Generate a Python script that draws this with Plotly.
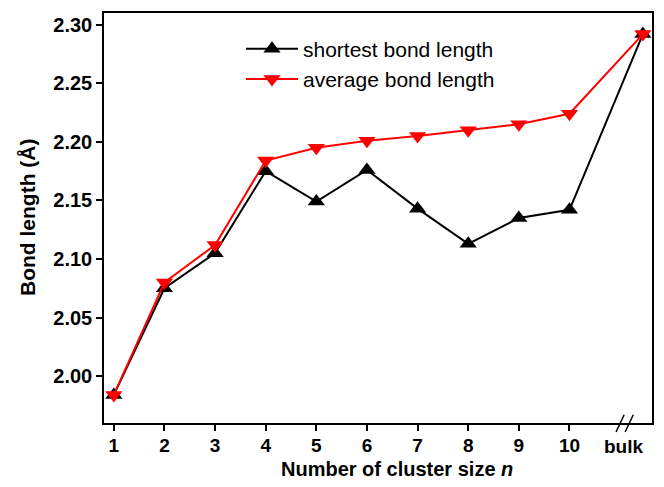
import plotly.graph_objects as go

# cluster sizes 1..10, plus the bulk value placed after an axis break
sizes = [1, 2, 3, 4, 5, 6, 7, 8, 9, 10]
bulk_x = 11.45
shortest = [1.984, 2.075, 2.105, 2.175, 2.149, 2.176, 2.143, 2.113, 2.135, 2.142]
average = [1.984, 2.080, 2.112, 2.184, 2.195, 2.201, 2.205, 2.210, 2.215, 2.224]
shortest_bulk = 2.292
average_bulk = 2.292
y_ticks = [2.00, 2.05, 2.10, 2.15, 2.20, 2.25, 2.30]

x_all = sizes + [bulk_x]

fig = go.Figure()
fig.add_trace(go.Scatter(
  x=x_all, y=shortest + [shortest_bulk], name='shortest bond length',
  mode='lines+markers', line=dict(color='black', width=2),
  marker=dict(symbol='triangle-up', size=15, color='black')))
fig.add_trace(go.Scatter(
  x=x_all, y=average + [average_bulk], name='average bond length',
  mode='lines+markers', line=dict(color='#ff0000', width=2),
  marker=dict(symbol='triangle-down', size=15, color='#ff0000')))

# axis break marks "//" on the bottom axis
for cx in [11.0, 11.18]:
  fig.add_shape(type='line', xref='x', yref='paper',
                x0=cx - 0.08, x1=cx + 0.08, y0=-0.022, y1=0.02,
                line=dict(color='black', width=1.5))
fig.add_annotation(x=11.07, y=0, xref='x', yref='paper', yanchor='middle', yshift=-23,
                   text='<b>bulk</b>', showarrow=False, font=dict(size=19, color='black'))

# axis titles as annotations so they sit where the original has them
fig.add_annotation(x=0.534, y=0, xref='paper', yref='paper', yanchor='middle', yshift=-46,
                   text='<b>Number of cluster size <i>n</i></b>', showarrow=False,
                   font=dict(size=20, color='black'))
fig.add_annotation(x=0, y=0.5, xref='paper', yref='paper', xanchor='center', xshift=-77,
                   textangle=-90, text='<b>Bond length (Å)</b>', showarrow=False,
                   font=dict(size=21, color='black'))

fig.update_layout(
  width=648, height=471,
  margin=dict(l=96, r=2, t=5, b=56),
  paper_bgcolor='white', plot_bgcolor='white',
  font=dict(family='Liberation Sans, Arial, sans-serif', color='black', size=20),
  showlegend=True,
  legend=dict(x=0.25, y=0.962, xanchor='left', yanchor='top',
              bgcolor='rgba(0,0,0,0)', font=dict(size=21), tracegroupgap=0,
              itemwidth=52),
  xaxis=dict(range=[0.806, 11.63], tickvals=sizes, ticktext=[f'<b>{s}</b>' for s in sizes],
             tickfont=dict(size=19), ticklabelstandoff=-2,
             ticks='outside', ticklen=6, tickwidth=1.5, tickcolor='black',
             showline=True, linecolor='black', linewidth=1.5, mirror=True,
             showgrid=False, zeroline=False),
  yaxis=dict(range=[1.96, 2.31], tickvals=y_ticks,
             ticktext=['<b>%.2f</b>' % v for v in y_ticks],
             ticks='outside', ticklen=6, tickwidth=1.5, tickcolor='black',
             showline=True, linecolor='black', linewidth=1.5, mirror=True,
             showgrid=False, zeroline=False),
)

fig.write_html('out.html')
